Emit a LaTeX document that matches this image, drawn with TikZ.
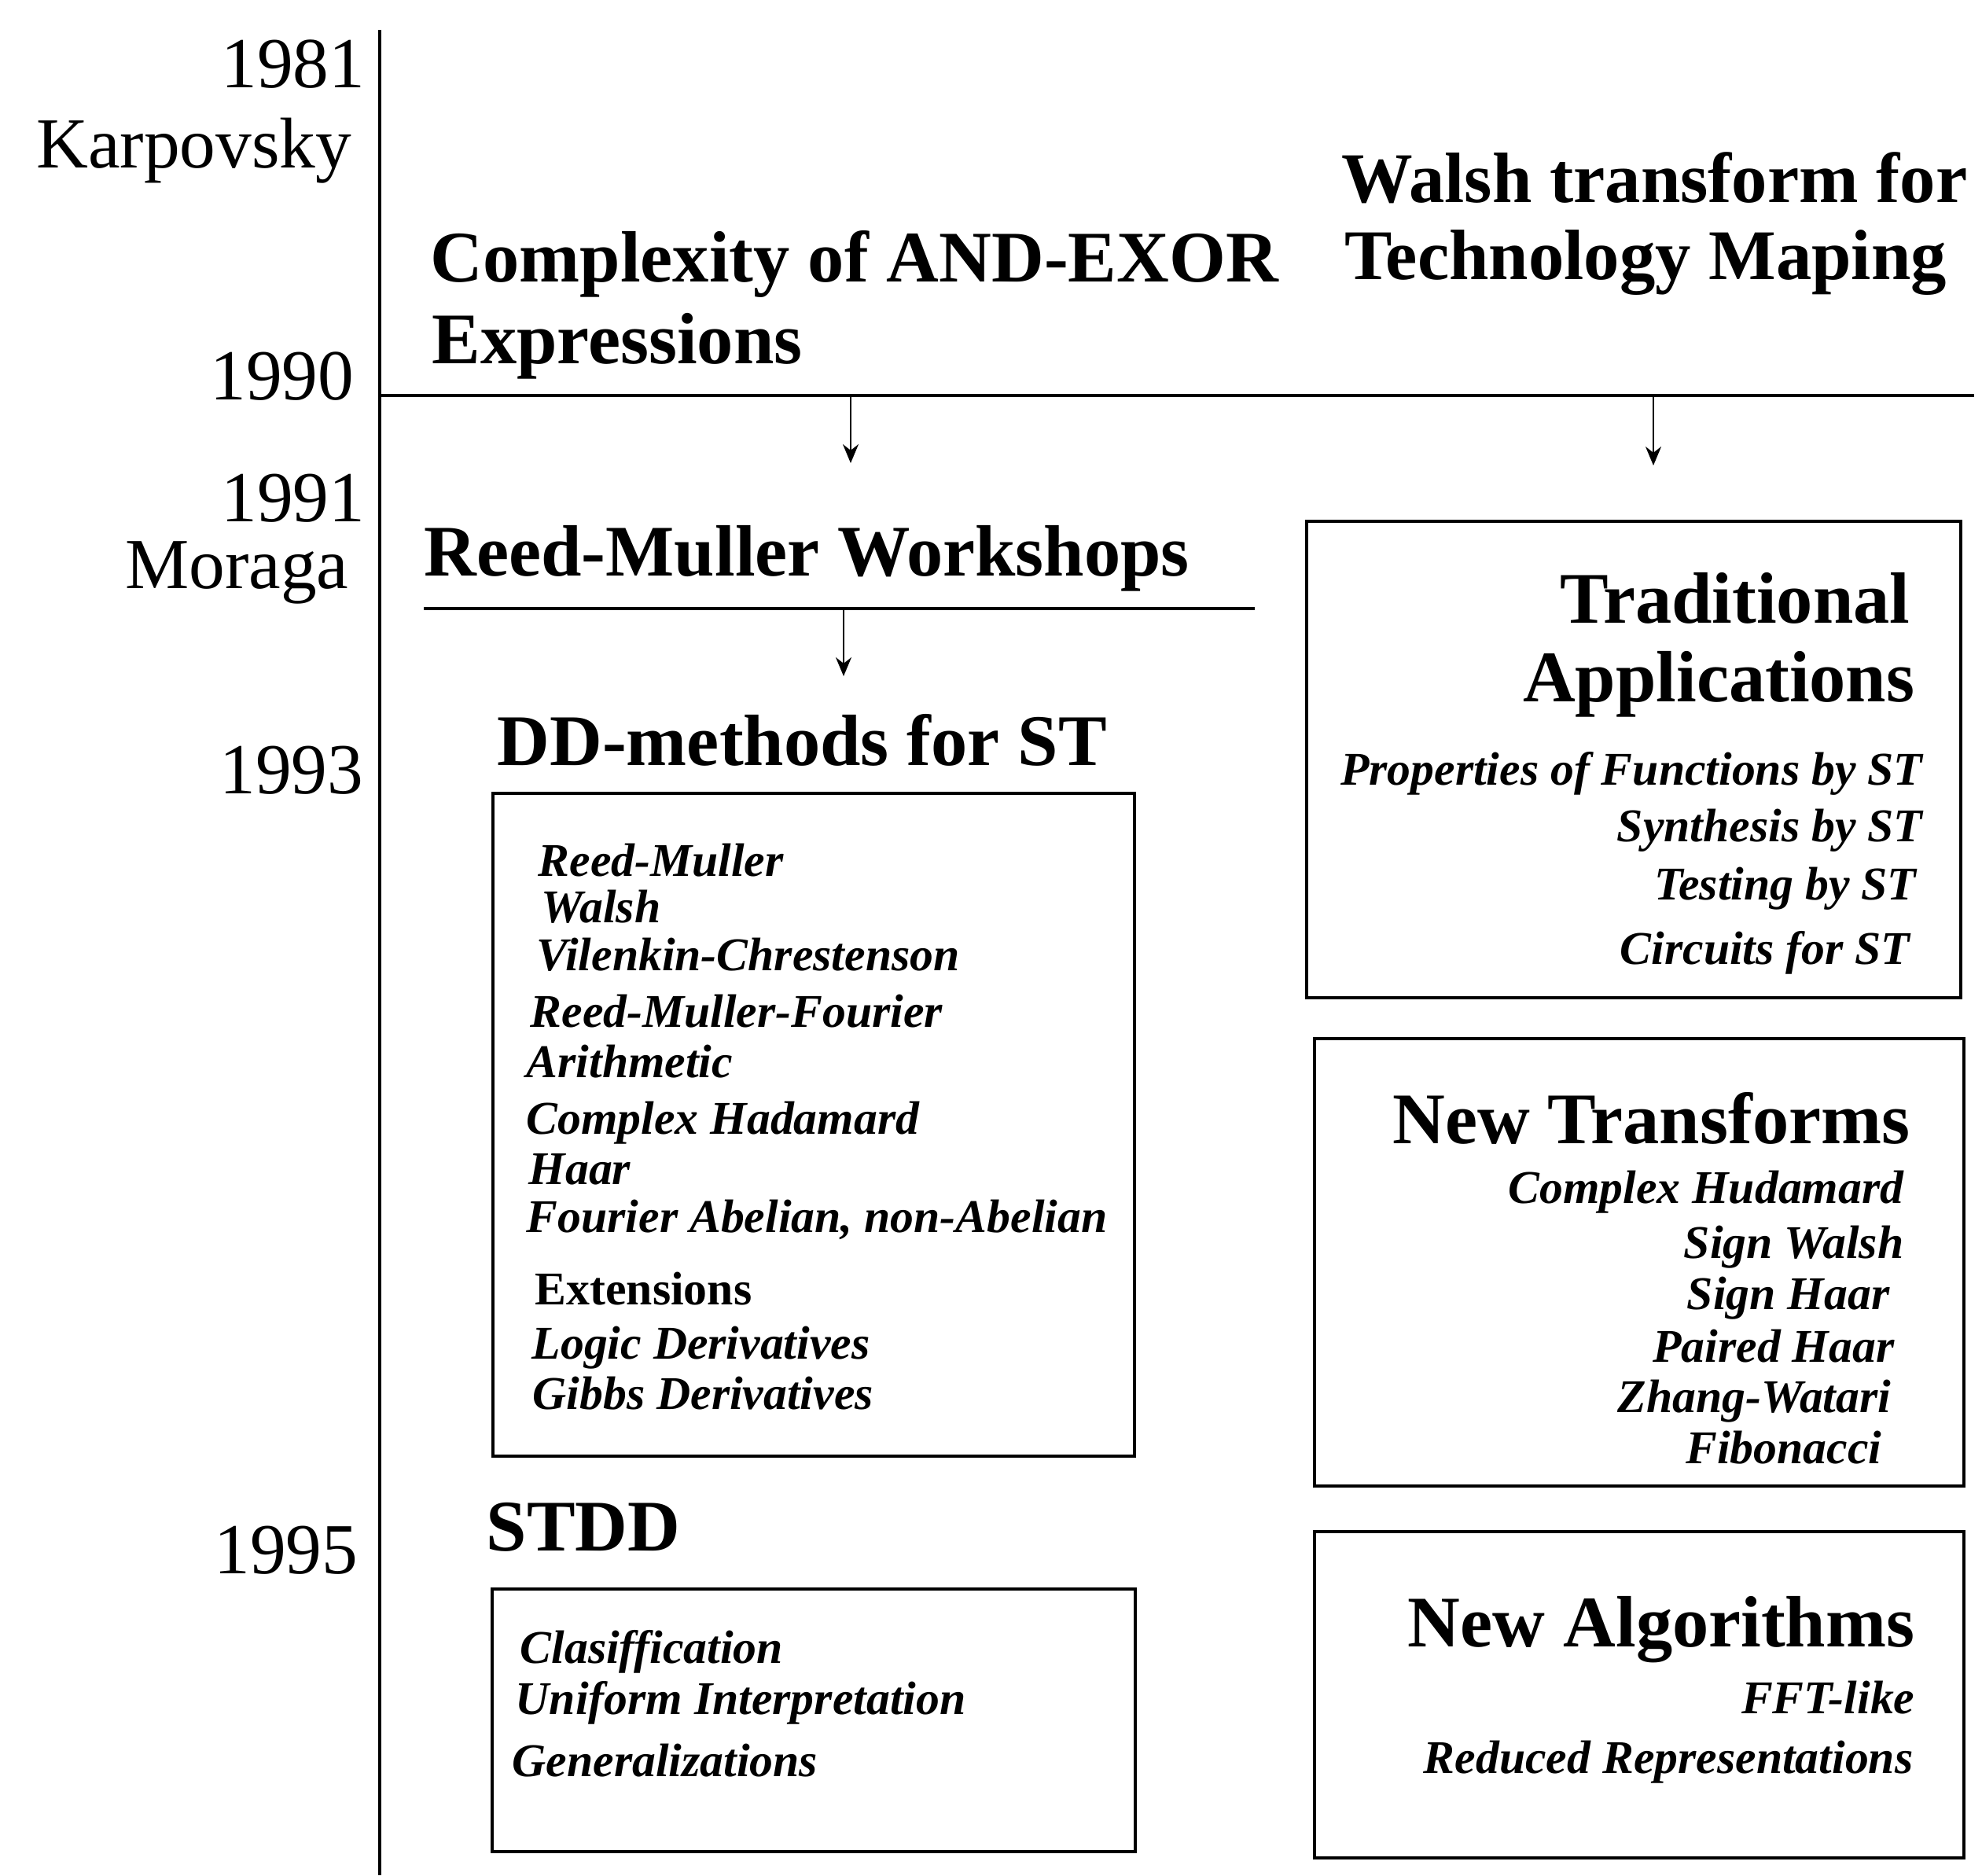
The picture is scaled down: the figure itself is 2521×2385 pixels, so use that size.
\documentclass[tikz,border=0pt]{standalone}
\usepackage{fontspec}
\setmainfont{Liberation Serif}
\usepackage{tikz}
\usetikzlibrary{arrows.meta,positioning}

\begin{document}
\begin{tikzpicture}[x=0.1mm,y=-0.1mm,>={Stealth[length=2.4mm,width=2mm]},
  yr/.style={inner sep=0pt,anchor=base east,font=\fontsize{26}{30}\selectfont},
  hd/.style={inner sep=0pt,anchor=base west,font=\fontsize{26.3}{30}\selectfont\bfseries},
  hdr/.style={hd,anchor=base east},
  itm/.style={inner sep=0pt,anchor=base west,font=\fontsize{17}{20}\selectfont\bfseries\itshape},
  itmr/.style={itm,anchor=base east},
  frame/.style={line width=1.1pt}]
  \useasboundingbox (0,0) rectangle (2521,2385);
  \draw[frame] (483,38) -- (483,2385);
  \draw[frame] (483,503) -- (2511,503);
  \draw[frame] (539,774) -- (1596,774);
  \node[yr] (y81) at (465,111) {1981};
  \node[yr] (karp) at (448,213) {Karpovsky};
  \node[yr] (y90) at (451,508) {1990};
  \node[yr] (y91) at (465,663) {1991};
  \node[yr] (mor) at (444,748) {Moraga};
  \node[yr] (y93) at (463,1009) {1993};
  \node[yr] (y95) at (456,2001) {1995};
  \node[hd] (cmp) at (547,358) {Complexity of AND-EXOR};
  \node[hd] (expr) at (549,462) {Expressions};
  \node[hd,font=\fontsize{25.8}{30}\selectfont\bfseries] (wal) at (1706,257) {Walsh transform for};
  \node[hd,font=\fontsize{25.8}{30}\selectfont\bfseries] (tech) at (1710,355) {Technology Maping};
  \node[hd] (rmw) at (539,732) {Reed-Muller Workshops};
  \node[hd] (ddm) at (632,973) {DD-methods for ST};
  \node[hd] (stdd) at (618,1972) {STDD};
  \node[hdr] (trad) at (2430,792) {Traditional};
  \node[hdr] (appl) at (2436,892) {Applications};
  \node[hdr] (newt) at (2430,1454) {New Transforms};
  \node[hdr] (newa) at (2436,2094) {New Algorithms};
  \draw[frame] (627,1009) rectangle (1443,1852);
  \draw[frame] (626,2021) rectangle (1444,2355);
  \draw[frame] (1662,663) rectangle (2494,1269);
  \draw[frame] (1672,1321) rectangle (2498,1890);
  \draw[frame] (1672,1948) rectangle (2498,2363);
  \node[itm] (rm) at (684,1114) {Reed-Muller};
  \node[itm] (wsh) at (688,1173) {Walsh};
  \node[itm] (vc) at (682,1234) {Vilenkin-Chrestenson};
  \node[itm] (rmf) at (674,1306) {Reed-Muller-Fourier};
  \node[itm] (ari) at (669,1370) {Arithmetic};
  \node[itm] (chl) at (669,1442) {Complex Hadamard};
  \node[itm] (haar) at (672,1506) {Haar};
  \node[itm] (four) at (669,1567) {Fourier Abelian, non-Abelian};
  \node[itm,font=\fontsize{17}{20}\selectfont\bfseries] (ext) at (680,1659) {Extensions};
  \node[itm] (logd) at (676,1728) {Logic Derivatives};
  \node[itm] (gibd) at (677,1792) {Gibbs Derivatives};
  \node[itm] (clas) at (661,2115) {Clasiffication};
  \node[itm] (unif) at (655,2180) {Uniform Interpretation};
  \node[itm] (gen) at (651,2259) {Generalizations};
  \node[itmr] (prop) at (2446,998) {Properties of Functions by ST};
  \node[itmr] (syn) at (2446,1070) {Synthesis by ST};
  \node[itmr] (tst) at (2438,1144) {Testing by ST};
  \node[itmr] (circ) at (2430,1226) {Circuits for ST};
  \node[itmr] (chr) at (2422,1530) {Complex Hudamard};
  \node[itmr] (sw) at (2422,1600) {Sign Walsh};
  \node[itmr] (sh) at (2404,1665) {Sign Haar};
  \node[itmr] (ph) at (2410,1732) {Paired Haar};
  \node[itmr] (zw) at (2406,1796) {Zhang-Watari};
  \node[itmr] (fib) at (2394,1861) {Fibonacci};
  \node[itmr] (fft) at (2436,2179) {FFT-like};
  \node[itmr] (red) at (2434,2255) {Reduced Representations};
  \coordinate (a1) at (1082,503);  \coordinate (a1e) at (1082,589);
  \coordinate (a2) at (2103,503);  \coordinate (a2e) at (2103,592);
  \coordinate (a3) at (1073,774);  \coordinate (a3e) at (1073,860);
  \draw[->,line width=0.6pt] (a1) -- (a1e);
  \draw[->,line width=0.6pt] (a2) -- (a2e);
  \draw[->,line width=0.6pt] (a3) -- (a3e);
\end{tikzpicture}
\end{document}
